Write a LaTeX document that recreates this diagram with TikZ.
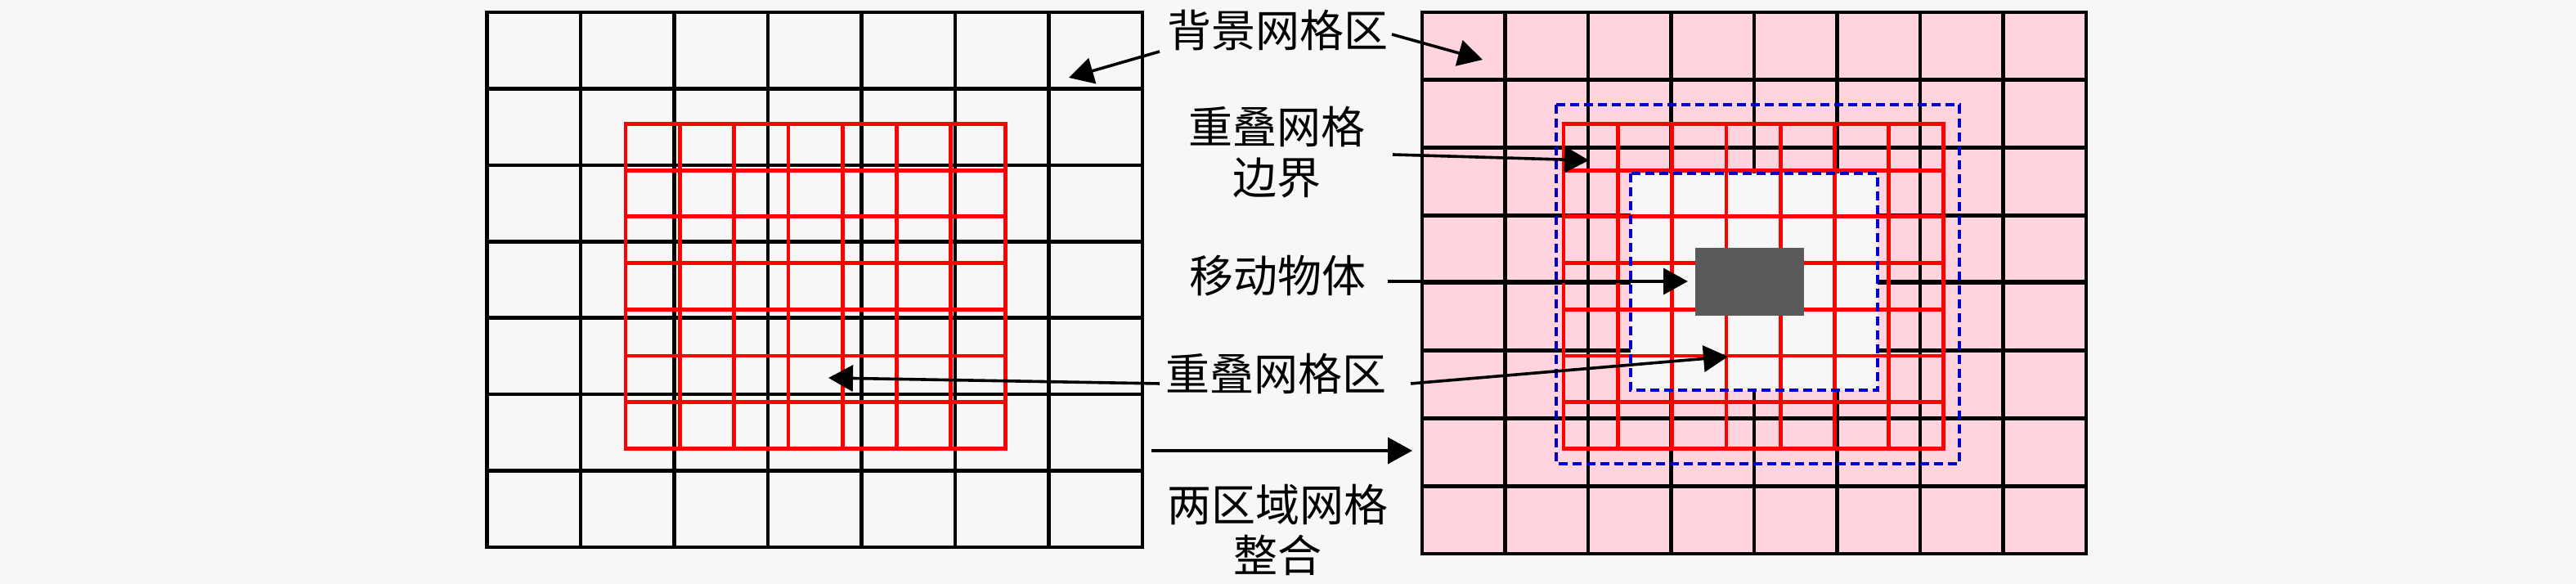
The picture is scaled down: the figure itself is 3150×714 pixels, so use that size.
\documentclass[tikz,border=0pt]{standalone}
\usepackage{fontspec}
\newfontfamily\cjk{Noto Sans CJK SC}
\usetikzlibrary{arrows.meta}
\definecolor{bgc}{RGB}{247,247,247}
\definecolor{pinkc}{RGB}{255,212,223}
\definecolor{darkc}{RGB}{90,90,90}
\definecolor{bluec}{RGB}{0,0,205}
\tikzset{
  gridline/.style={black, line width=1.15pt},
  redline/.style={red, line width=1.2pt},
  bluedash/.style={bluec, line width=1.1pt, dash pattern=on 2.75pt off 1.5pt},
  arr/.style={black, line width=0.9pt, -{Triangle[length=7.5pt,width=8pt]}},
  lbl/.style={font=\cjk\fontsize{13.5pt}{15.5pt}\selectfont, inner sep=0pt, align=center},
  objbox/.style={fill=darkc, draw=none, minimum width=33.25pt, minimum height=20.75pt, inner sep=0pt}
}
\begin{document}
\begin{tikzpicture}[x=0.25pt,y=-0.25pt]
\fill[bgc] (0,0) rectangle (3150,714);
\useasboundingbox (0,0) rectangle (3150,714);

% ---------- left panel: background grid ----------
\foreach \i in {1,...,6} {
  \draw[gridline] ({595.5+114.5*\i},15) -- ({595.5+114.5*\i},669);
  \draw[gridline] (595.5,{15+93.43*\i}) -- (1397,{15+93.43*\i});
}
\draw[gridline] (595.5,15) rectangle (1397,669);
% left panel: overlap grid
\foreach \i in {1,...,6} {
  \draw[redline] ({765+66.3*\i},151.5) -- ({765+66.3*\i},548.4);
  \draw[redline] (765,{151.5+56.7*\i}) -- (1229.1,{151.5+56.7*\i});
}
\draw[redline] (765,151.5) rectangle (1229.1,548.4);

% ---------- right panel ----------
\fill[pinkc] (1739,15) rectangle (2551,677);
\foreach \i in {1,...,7} {
  \draw[gridline] ({1739+101.5*\i},15) -- ({1739+101.5*\i},677);
  \draw[gridline] (1739,{15+82.75*\i}) -- (2551,{15+82.75*\i});
}
\draw[gridline] (1739,15) rectangle (2551,677);
% inner (hole) region
\fill[bgc] (1994,212) rectangle (2296,477);
\draw[black, line width=1.6pt] (2296,345) -- (2551,345);
% overlap grid
\foreach \i in {1,...,6} {
  \draw[redline] ({1912+66.3*\i},151.5) -- ({1912+66.3*\i},548.4);
  \draw[redline] (1912,{151.5+56.7*\i}) -- (2376.1,{151.5+56.7*\i});
}
\draw[redline] (1912,151.5) rectangle (2376.1,548.4);
% moving object
\node[objbox] (obj) at (2139.5,344.5) {};
% dashed boundaries
\draw[bluedash] (1903,128) rectangle (2396,567);
\draw[bluedash] (1994,212) rectangle (2296,477);

% ---------- labels ----------
\node[lbl] (bg) at (1562,37) {背景网格区};
\node[lbl] (bd) at (1561,186.5) {重叠网格\\边界};
\node[lbl] (mv) at (1562,337.5) {移动物体};
\node[lbl] (ov) at (1560,456.5) {重叠网格区};
\node[lbl] (mg) at (1562,647.5) {两区域网格\\整合};

% ---------- arrow end points ----------
\coordinate (bgL) at (1418,63);   \coordinate (bgLt) at (1307,95);
\coordinate (bgR) at (1702,42);   \coordinate (bgRt) at (1813,73);
\coordinate (bdS) at (1703,189);  \coordinate (bdT) at (1943,196);
\coordinate (mvS) at (1697,344);  \coordinate (mvT) at (2064,344);
\coordinate (ovL) at (1418,469);  \coordinate (ovLt) at (1013,462);
\coordinate (ovR) at (1725,469);  \coordinate (ovRt) at (2113,436);
\coordinate (mgS) at (1408,551);  \coordinate (mgT) at (1727,551);

\draw[arr] (bgL) -- (bgLt);
\draw[arr] (bgR) -- (bgRt);
\draw[arr] (bdS) -- (bdT);
\draw[arr] (mvS) -- (mvT);
\draw[arr] (ovL) -- (ovLt);
\draw[arr] (ovR) -- (ovRt);
\draw[arr] (mgS) -- (mgT);
\end{tikzpicture}
\end{document}
